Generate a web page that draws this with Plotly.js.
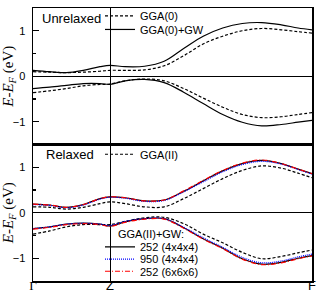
<!DOCTYPE html>
<html>
<head>
<meta charset="utf-8">
<script src="https://cdn.plot.ly/plotly-3.0.1.min.js"></script>
<style>html,body{margin:0;padding:0;background:#fff;}</style>
</head>
<body>
<div id="chart" style="width:317px;height:294px;"></div>
<script>
// k-path positions (Γ = 0, Z = 0.276, F = 1)
const kPath = [0, 0.06, 0.12, 0.18, 0.24, 0.276, 0.33, 0.40, 0.47, 0.54, 0.61, 0.68, 0.75, 0.82, 0.89, 0.95, 1.0];
const kTickVals = [0, 0.276, 1];
const kTickText = ['<span style="font-family:Liberation Serif">Γ</span>', 'Z', 'F'];

// Unrelaxed (top panel)
const gga0Cond = [0.10, 0.09, 0.08, 0.09, 0.11, 0.13, 0.13, 0.14, 0.23, 0.45, 0.71, 0.88, 1.00, 1.05, 1.02, 0.98, 0.95];
const gga0Val  = [-0.36, -0.32, -0.27, -0.21, -0.18, -0.17, -0.10, -0.06, -0.10, -0.27, -0.48, -0.68, -0.84, -0.91, -0.89, -0.84, -0.80];
const gw0Cond  = [0.13, 0.10, 0.08, 0.13, 0.21, 0.24, 0.21, 0.22, 0.33, 0.61, 0.88, 1.06, 1.16, 1.18, 1.13, 1.06, 1.02];
const gw0Val   = [-0.27, -0.24, -0.20, -0.16, -0.16, -0.18, -0.10, -0.07, -0.14, -0.35, -0.60, -0.84, -1.01, -1.09, -1.06, -1.01, -0.97];

// Relaxed (bottom panel)
const gga2Cond   = [0.13, 0.12, 0.08, 0.12, 0.20, 0.24, 0.20, 0.13, 0.13, 0.31, 0.53, 0.75, 0.93, 1.03, 0.98, 0.87, 0.77];
const gga2Val    = [-0.47, -0.40, -0.31, -0.26, -0.26, -0.26, -0.19, -0.11, -0.10, -0.24, -0.47, -0.66, -0.87, -1.01, -0.96, -0.88, -0.82];
const gw252aCond = [0.19, 0.17, 0.12, 0.18, 0.31, 0.35, 0.33, 0.26, 0.28, 0.47, 0.70, 0.92, 1.08, 1.15, 1.08, 0.96, 0.86];
const gw252aVal  = [-0.35, -0.31, -0.25, -0.23, -0.25, -0.29, -0.20, -0.13, -0.13, -0.33, -0.57, -0.78, -1.01, -1.13, -1.09, -1.00, -0.94];
const gw950Cond  = [0.18, 0.16, 0.11, 0.17, 0.30, 0.34, 0.32, 0.25, 0.27, 0.46, 0.68, 0.90, 1.06, 1.13, 1.07, 0.95, 0.85];
const gw950Val   = [-0.35, -0.31, -0.25, -0.23, -0.25, -0.28, -0.19, -0.13, -0.13, -0.32, -0.55, -0.76, -0.98, -1.10, -1.06, -0.97, -0.91];
const gw252bCond = [0.19, 0.17, 0.12, 0.18, 0.31, 0.35, 0.33, 0.26, 0.28, 0.48, 0.71, 0.93, 1.09, 1.16, 1.08, 0.96, 0.86];
const gw252bVal  = [-0.36, -0.32, -0.26, -0.24, -0.26, -0.30, -0.21, -0.14, -0.14, -0.34, -0.58, -0.79, -1.02, -1.14, -1.10, -1.01, -0.95];

const DASH = '3px,2px';
function band(y, name, color, dash, xa, ya, leg, show, group) {
  return {
    x: kPath, y: y, type: 'scatter', mode: 'lines', name: name,
    xaxis: xa, yaxis: ya, legend: leg, showlegend: show, legendgroup: group,
    line: {color: color, width: 1.2, dash: dash, shape: 'spline', smoothing: 1},
    hoverinfo: 'skip'
  };
}

const traces = [
  band(gga0Cond, 'GGA(0)', 'black', DASH, 'x2', 'y2', 'legend', true, 'g0'),
  band(gga0Val,  'GGA(0)', 'black', DASH, 'x2', 'y2', 'legend', false, 'g0'),
  band(gw0Cond, 'GGA(0)+GW', 'black', 'solid', 'x2', 'y2', 'legend2', true, 'w0'),
  band(gw0Val,  'GGA(0)+GW', 'black', 'solid', 'x2', 'y2', 'legend2', false, 'w0'),
  band(gga2Cond, 'GGA(II)', 'black', DASH, 'x', 'y', 'legend3', true, 'g2'),
  band(gga2Val,  'GGA(II)', 'black', DASH, 'x', 'y', 'legend3', false, 'g2'),
  band(gw252aCond, '252 (4x4x4)', 'black', 'solid', 'x', 'y', 'legend4', true, 'a'),
  band(gw252aVal,  '252 (4x4x4)', 'black', 'solid', 'x', 'y', 'legend4', false, 'a'),
  band(gw950Cond, '950 (4x4x4)', '#0000ff', '1px,1px', 'x', 'y', 'legend5', true, 'b'),
  band(gw950Val,  '950 (4x4x4)', '#0000ff', '1px,1px', 'x', 'y', 'legend5', false, 'b'),
  band(gw252bCond, '252 (6x6x6)', '#ff0000', '5px,2px,1px,2px', 'x', 'y', 'legend6', true, 'c'),
  band(gw252bVal,  '252 (6x6x6)', '#ff0000', '5px,2px,1px,2px', 'x', 'y', 'legend6', false, 'c')
];

const H = 280, PT = 1;
function py(px) { return (H + PT - px) / H; }   // pixel row -> paper y
function px2(x) { return (x - 33) / 279; }       // pixel col -> paper x

const xBase = {
  range: [0, 1], tickmode: 'array', tickvals: kTickVals, ticks: '', ticklen: 0,
  showgrid: true, gridcolor: 'black', gridwidth: 1, zeroline: false,
  showline: true, mirror: true, linecolor: 'black', linewidth: 1.5
};
const yBase = {
  range: [-1.5, 1.5], tickmode: 'linear', tick0: 0, dtick: 1,
  ticks: 'inside', ticklen: 6, tickwidth: 1.2, tickcolor: 'black',
  minor: {dtick: 0.5, tick0: 0, ticks: 'inside', ticklen: 3, tickwidth: 1.2, tickcolor: 'black', showgrid: false},
  showgrid: false, zeroline: true, zerolinecolor: 'black', zerolinewidth: 1.2,
  showline: true, mirror: true, linecolor: 'black', linewidth: 1.5,
  tickfont: {size: 11}, ticklabelstandoff: 4,
  title: {text: '<i>E-E</i><sub><i>F</i></sub> (eV)', font: {family: 'Liberation Serif', size: 15}, standoff: 3}
};
function legendAt(y) {
  return {x: px2(100), xanchor: 'left', y: y, yanchor: 'middle', bgcolor: 'rgba(0,0,0,0)',
          borderwidth: 0, font: {size: 11}, itemwidth: 30, tracegroupgap: 0};
}

const layout = {
  width: 317, height: 294,
  margin: {l: 33, r: 5, t: PT, b: 13, pad: 0},
  paper_bgcolor: 'white', plot_bgcolor: 'white',
  font: {family: 'Liberation Sans, Arial, sans-serif', size: 11, color: 'black'},
  xaxis: Object.assign({}, xBase, {anchor: 'y', domain: [0, 1], ticktext: kTickText, tickfont: {size: 13}, showticklabels: true, ticklabelstandoff: -8}),
  xaxis2: Object.assign({}, xBase, {anchor: 'y2', domain: [0, 1], ticktext: kTickText, showticklabels: false}),
  yaxis: Object.assign({}, yBase, {domain: [0, 0.5], anchor: 'x'}),
  yaxis2: Object.assign({}, yBase, {domain: [0.5, 1], anchor: 'x2'}),
  legend: legendAt(py(9)),
  legend2: legendAt(py(23)),
  legend3: legendAt(py(151)),
  legend4: legendAt(py(246)),
  legend5: legendAt(py(258.5)),
  legend6: legendAt(py(271)),
  annotations: [
    {text: 'Unrelaxed', xref: 'paper', yref: 'paper', x: px2(40), y: py(12), xanchor: 'left', yanchor: 'middle', showarrow: false, font: {size: 13}},
    {text: 'Relaxed', xref: 'paper', yref: 'paper', x: px2(44), y: py(151), xanchor: 'left', yanchor: 'middle', showarrow: false, font: {size: 13}},
    {text: 'GGA(II)+GW:', xref: 'paper', yref: 'paper', x: px2(116), y: py(233), xanchor: 'left', yanchor: 'middle', showarrow: false, font: {size: 11}}
  ]
};

Plotly.newPlot('chart', traces, layout, {staticPlot: true, displayModeBar: false});
</script>
</body>
</html>
